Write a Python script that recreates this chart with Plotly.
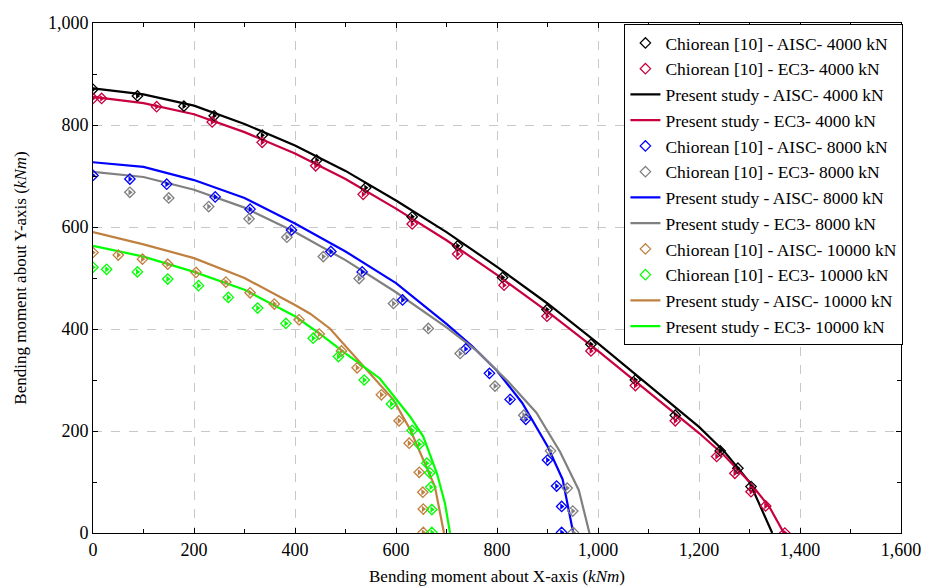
import plotly.graph_objects as go

# ---------------- data ----------------
# Chiorean [10] reference points (Mx, My) in kNm
ch_aisc_4000_x = [0, 88, 180, 240, 335, 443, 540, 632, 722, 811, 899, 986, 1074, 1153, 1242, 1277, 1303]
ch_aisc_4000_y = [870, 857, 837, 818, 780, 731, 677, 620, 563, 501, 438, 370, 300, 231, 161, 127, 91]
ch_ec3_4000_x = [0, 17, 126, 236, 335, 441, 535, 632, 722, 814, 899, 986, 1074, 1153, 1235, 1271, 1303, 1332, 1370]
ch_ec3_4000_y = [852, 852, 836, 806, 766, 720, 664, 606, 547, 486, 425, 357, 289, 220, 150, 117, 81, 53, 0]

ch_aisc_8000_x = [0, 73, 146, 242, 311, 393, 471, 533, 613, 738, 785, 826, 857, 900, 918, 928, 928]
ch_aisc_8000_y = [701, 694, 684, 659, 635, 594, 552, 512, 457, 361, 313, 262, 223, 143, 92, 52, 1]
ch_ec3_8000_x = [73, 150, 229, 309, 384, 456, 527, 595, 664, 727, 796, 853, 906, 939, 950, 951]
ch_ec3_8000_y = [668, 657, 640, 616, 580, 542, 499, 450, 401, 352, 288, 231, 161, 88, 43, 1]

ch_aisc_10000_x = [0, 50, 98, 148, 204, 263, 311, 359, 408, 448, 492, 523, 571, 606, 626, 646, 653, 654, 654]
ch_aisc_10000_y = [550, 545, 537, 527, 511, 492, 471, 449, 418, 390, 357, 324, 271, 220, 176, 119, 80, 47, 1]
ch_ec3_10000_x = [0, 27, 88, 148, 209, 268, 326, 382, 436, 486, 537, 591, 632, 646, 661, 667, 669, 671, 671]
ch_ec3_10000_y = [521, 517, 512, 498, 485, 462, 441, 411, 382, 346, 300, 253, 201, 174, 137, 118, 90, 46, 1]

# Present study curves
ps_aisc_4000_x = [0, 100, 200, 300, 400, 500, 600, 700, 800, 900, 1000, 1100, 1200, 1250, 1300, 1345]
ps_aisc_4000_y = [872, 860, 838, 802, 760, 710, 652, 590, 522, 450, 372, 290, 208, 160, 100, 0]
ps_ec3_4000_x = [0, 100, 200, 300, 400, 500, 600, 700, 800, 900, 1000, 1100, 1200, 1250, 1300, 1340, 1368]
ps_ec3_4000_y = [855, 843, 821, 786, 744, 694, 636, 574, 506, 434, 357, 276, 196, 152, 100, 50, 0]

ps_aisc_8000_x = [0, 100, 200, 300, 400, 500, 600, 700, 750, 800, 850, 900, 930, 951]
ps_aisc_8000_y = [727, 718, 692, 657, 607, 552, 490, 410, 367, 318, 255, 170, 105, 0]
ps_ec3_8000_x = [0, 100, 200, 300, 400, 500, 600, 700, 760, 822, 878, 925, 962, 983]
ps_ec3_8000_y = [708, 698, 673, 638, 590, 535, 472, 403, 357, 297, 236, 159, 84, 0]

ps_aisc_10000_x = [0, 100, 200, 300, 400, 430, 469, 542, 595, 628, 648, 677, 695]
ps_aisc_10000_y = [590, 566, 539, 500, 447, 430, 401, 320, 261, 203, 156, 91, 0]
ps_ec3_10000_x = [0, 100, 200, 300, 400, 450, 500, 568, 628, 654, 681, 697, 707]
ps_ec3_10000_y = [563, 542, 512, 477, 425, 390, 352, 303, 228, 189, 117, 58, 0]

x_ticks = [0, 200, 400, 600, 800, 1000, 1200, 1400, 1600]
y_ticks = [0, 200, 400, 600, 800, 1000]

# ---------------- styling ----------------
BLACK = "#000000"
RED = "#c8003f"
BLUE = "#0000ff"
GRAY = "#808080"
BROWN = "#bf8040"
GREEN = "#00ff00"
FONT = "'Liberation Serif', 'DejaVu Serif', 'Times New Roman', serif"

fig = go.Figure()

lines = [
    ("Present study - AISC- 4000 kN", ps_aisc_4000_x, ps_aisc_4000_y, BLACK, 3),
    ("Present study - EC3- 4000 kN", ps_ec3_4000_x, ps_ec3_4000_y, RED, 4),
    ("Present study - AISC- 8000 kN", ps_aisc_8000_x, ps_aisc_8000_y, BLUE, 7),
    ("Present study - EC3- 8000 kN", ps_ec3_8000_x, ps_ec3_8000_y, GRAY, 8),
    ("Present study - AISC- 10000 kN", ps_aisc_10000_x, ps_aisc_10000_y, BROWN, 11),
    ("Present study - EC3- 10000 kN", ps_ec3_10000_x, ps_ec3_10000_y, GREEN, 12),
]
markers = [
    ("Chiorean [10] - AISC- 4000 kN", ch_aisc_4000_x, ch_aisc_4000_y, BLACK, 1),
    ("Chiorean [10] - EC3- 4000 kN", ch_ec3_4000_x, ch_ec3_4000_y, RED, 2),
    ("Chiorean [10] - AISC- 8000 kN", ch_aisc_8000_x, ch_aisc_8000_y, BLUE, 5),
    ("Chiorean [10] - EC3- 8000 kN", ch_ec3_8000_x, ch_ec3_8000_y, GRAY, 6),
    ("Chiorean [10] - AISC- 10000 kN", ch_aisc_10000_x, ch_aisc_10000_y, BROWN, 9),
    ("Chiorean [10] - EC3- 10000 kN", ch_ec3_10000_x, ch_ec3_10000_y, GREEN, 10),
]

for name, xs, ys, col, rank in lines:
    fig.add_trace(go.Scatter(x=xs, y=ys, mode="lines", name=name,
                             line=dict(color=col, width=2.2), legendrank=rank))

for i, (name, xs, ys, col, rank) in enumerate(markers):
    grp = f"ch{i}"
    fig.add_trace(go.Scatter(x=xs, y=ys, mode="markers", name=name, legendrank=rank,
                             legendgroup=grp,
                             marker=dict(symbol="diamond-open", size=8, color=col,
                                         line=dict(color=col, width=1.3))))
    # filled right half of the diamond
    fig.add_trace(go.Scatter(x=xs, y=ys, mode="markers", name=name, legendgroup=grp,
                             showlegend=False, hoverinfo="skip",
                             marker=dict(symbol="triangle-right", size=5.5, color=col,
                                         line=dict(width=0))))

axis_common = dict(
    showline=True, linecolor="black", linewidth=1, mirror="allticks",
    ticks="inside", ticklen=5, tickcolor="black", tickwidth=1,
    showgrid=True, gridcolor="#c8c8c8", griddash="dash", gridwidth=1,
    zeroline=False, tickformat=",", automargin=False,
    tickfont=dict(family=FONT, size=18, color="black"),
    minor=dict(dtick=100, ticks="inside", ticklen=4, tickcolor="black", showgrid=False),
)

fig.update_xaxes(range=[0, 1600], tickvals=x_ticks,
                 title=dict(text="Bending moment about X-axis (<i>kNm</i>)",
                            font=dict(family=FONT, size=17, color="black"), standoff=14),
                 **axis_common)
fig.update_yaxes(range=[0, 1000], tickvals=y_ticks,
                 title=dict(text="Bending moment about Y-axis (<i>kNm</i>)",
                            font=dict(family=FONT, size=17, color="black"), standoff=16),
                 **axis_common)

fig.update_layout(
    width=928, height=586,
    margin=dict(l=93, r=27, t=23, b=53),
    paper_bgcolor="white", plot_bgcolor="white",
    font=dict(family=FONT, size=17, color="black"),
    showlegend=True,
    legend=dict(x=1.003, y=0.998, xanchor="right", yanchor="top",
                bgcolor="white", bordercolor="black", borderwidth=1,
                font=dict(family=FONT, size=17.5, color="black"),
                traceorder="normal", tracegroupgap=0, itemwidth=30),
)

fig.write_html("out.html", config={"displayModeBar": False},
               post_script="document.body.style.margin='0';document.body.style.overflow='hidden';")
